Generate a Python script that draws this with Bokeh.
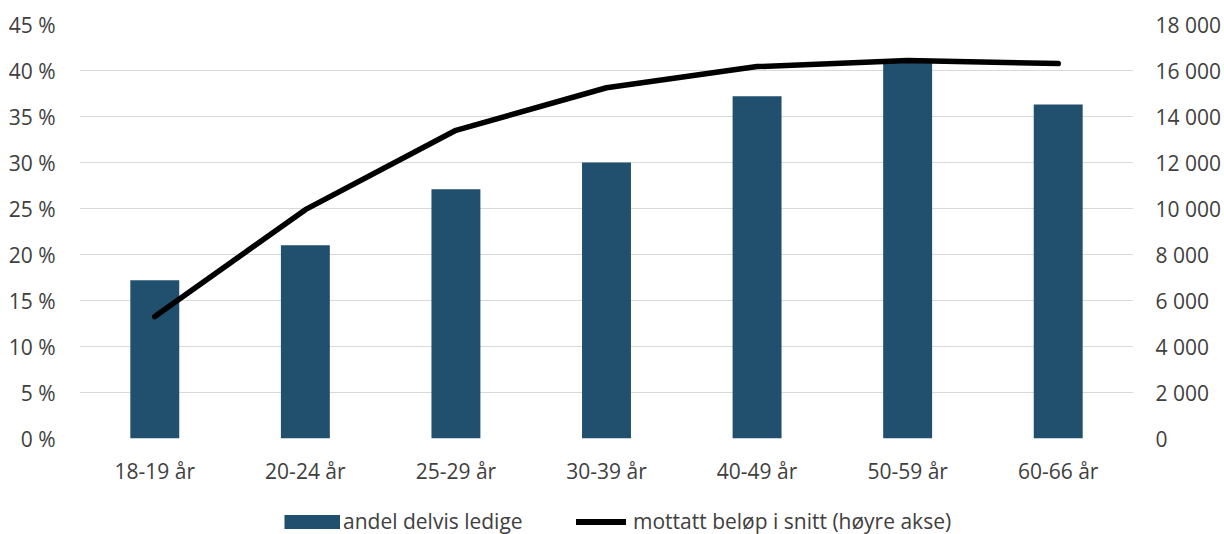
from bokeh.plotting import figure
from bokeh.layouts import column
from bokeh.models import (FactorRange, Range1d, LinearAxis, FixedTicker, Legend,
                          LegendItem, ColumnDataSource)
from bokeh.embed import file_html
from bokeh.resources import INLINE

categories = ["18-19 år", "20-24 år", "25-29 år", "30-39 år", "40-49 år", "50-59 år", "60-66 år"]
andel = [17.2, 21.0, 27.1, 30.0, 37.2, 41.2, 36.3]
belop = [5300, 9950, 13400, 15250, 16170, 16430, 16300]

left_ticks = [0, 5, 10, 15, 20, 25, 30, 35, 40, 45]
left_labels = ["0 %", "5 %", "10 %", "15 %", "20 %", "25 %", "30 %", "35 %", "40 %", "45 %"]
right_ticks = [0, 2000, 4000, 6000, 8000, 10000, 12000, 14000, 16000, 18000]
right_labels = ["0", "2 000", "4 000", "6 000", "8 000", "10 000", "12 000", "14 000", "16 000", "18 000"]

FONT = "Open Sans"
TXT = "#404040"
BAR = "#214f6e"
FS = "21px"

src = ColumnDataSource(dict(cat=categories, andel=andel, belop=belop))

p = figure(x_range=FactorRange(*categories, range_padding=0), y_range=Range1d(0, 45),
           width=1224, height=494, output_backend="svg", toolbar_location=None,
           min_border_left=79, min_border_right=91, min_border_top=24, min_border_bottom=56)
p.extra_y_ranges = {"right": Range1d(0, 18000)}
p.outline_line_color = None

p.vbar(x="cat", top="andel", width=0.325, source=src, color=BAR, line_color=None)
p.line(x="cat", y="belop", source=src, y_range_name="right", line_color="black",
       line_width=5.5, line_cap="round", line_join="round")

p.yaxis.ticker = FixedTicker(ticks=left_ticks)
p.yaxis.major_label_overrides = {t: l for t, l in zip(left_ticks, left_labels)}

ra = LinearAxis(y_range_name="right", ticker=FixedTicker(ticks=right_ticks))
ra.major_label_overrides = {t: l for t, l in zip(right_ticks, right_labels)}
p.add_layout(ra, "right")

for ax in [p.yaxis[0], ra, p.xaxis[0]]:
    ax.axis_line_color = None
    ax.major_tick_line_color = None
    ax.minor_tick_line_color = None
    ax.major_label_text_font = FONT
    ax.major_label_text_font_size = FS
    ax.major_label_text_color = TXT
p.yaxis[0].major_label_standoff = 18
ra.major_label_standoff = 16
p.xaxis[0].major_label_standoff = 12

p.xgrid.grid_line_color = None
p.ygrid.grid_line_color = "#d9d9d9"
p.ygrid.grid_line_width = 1
p.ygrid.ticker = FixedTicker(ticks=left_ticks)

# legend strip below the chart (its renderers lie outside the strip's visible range)
q = figure(width=1224, height=40, output_backend="svg", toolbar_location=None,
           x_range=Range1d(0, 1), y_range=Range1d(0, 1),
           x_axis_location=None, y_axis_location=None,
           min_border_left=0, min_border_right=0, min_border_top=0, min_border_bottom=0)
q.outline_line_color = None
q.grid.visible = False
rb = q.line(x=[10, 11], y=[10, 10], line_color=BAR, line_width=14, line_cap="butt")
rl = q.line(x=[10, 11], y=[10, 10], line_color="black", line_width=6, line_cap="round")

common = dict(orientation="horizontal", border_line_color=None, background_fill_alpha=0,
              label_text_font=FONT, label_text_font_size=FS, label_text_color=TXT,
              glyph_height=17, padding=0, margin=0)
leg1 = Legend(items=[LegendItem(label="andel delvis ledige", renderers=[rb])],
              location=(205, -1), glyph_width=56, label_standoff=3, **common)
leg2 = Legend(items=[LegendItem(label="mottatt beløp i snitt (høyre akse)", renderers=[rl])],
              location=(497, -1), glyph_width=50, label_standoff=7, **common)
q.add_layout(leg1, "center")
q.add_layout(leg2, "center")

open("out.html", "w").write(file_html(column(p, q, spacing=0), INLINE))
